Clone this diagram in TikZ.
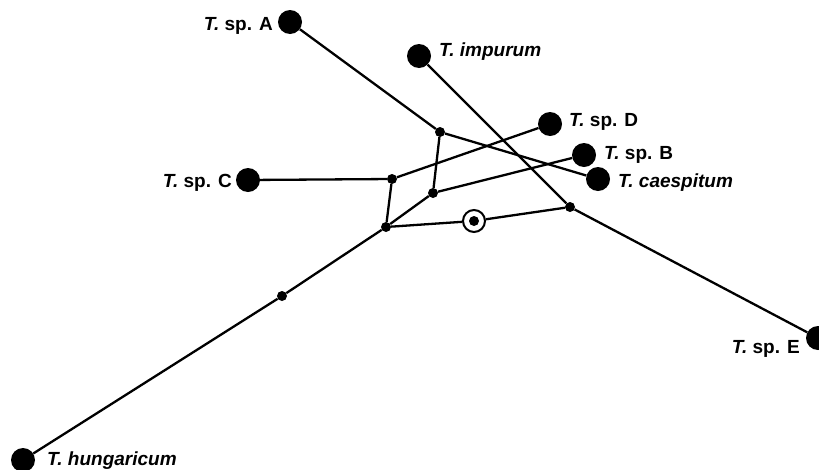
\documentclass[tikz,border=0pt]{standalone}
\usepackage{fontspec}
\setmainfont{Liberation Sans}
\begin{document}
\begin{tikzpicture}[x=1pt,y=-1pt,
  big/.style={circle,fill=black,inner sep=0pt,minimum size=24pt},
  small/.style={circle,fill=black,inner sep=0pt,minimum size=10pt},
  ring/.style={circle,draw=black,line width=2pt,inner sep=0pt,minimum size=22pt},
  lbl/.style={font=\fontsize{19}{22}\selectfont\bfseries,inner sep=0pt},
  edge/.style={line width=2.3pt}]
\useasboundingbox (0,0) rectangle (819,469);
% large taxa
\node[big] (A) at (290,22) {};
\node[big] (IMP) at (419,56) {};
\node[big] (D) at (550,124) {};
\node[big] (B) at (584,155) {};
\node[big] (CAE) at (598,179) {};
\node[big] (C) at (248,180) {};
\node[big] (E) at (818,338) {};
\node[big] (HUN) at (23,460) {};
% internal vertices
\node[small] (n1) at (440,132) {};
\node[small] (n2) at (392,179) {};
\node[small] (n3) at (433,193) {};
\node[small] (n4) at (386,227) {};
\node[small] (n5) at (570,207) {};
\node[small] (n6) at (282,296) {};
\node[small] (R) at (474,221) {};
\node[ring] (Rr) at (474,221) {};
% edges
\draw[edge] (A) -- (n1);
\draw[edge] (n1) -- (CAE);
\draw[edge] (n1) -- (n3);
\draw[edge] (C) -- (n2);
\draw[edge] (n2) -- (D);
\draw[edge] (n2) -- (n4);
\draw[edge] (n4) -- (n3);
\draw[edge] (n3) -- (B);
\draw[edge] (n4) -- (Rr);
\draw[edge] (Rr) -- (n5);
\draw[edge] (IMP) -- (n5);
\draw[edge] (n5) -- (E);
\draw[edge] (n4) -- (n6);
\draw[edge] (n6) -- (HUN);
% labels
\node[lbl,anchor=east] (lA) at (273,26) {\textit{T.} sp. A};
\node[lbl,anchor=west] (lIMP) at (439,52) {\textit{T. impurum}};
\node[lbl,anchor=west] (lD) at (569,122) {\textit{T.} sp. D};
\node[lbl,anchor=west] (lB) at (604,155) {\textit{T.} sp. B};
\node[lbl,anchor=west] (lCAE) at (618,183) {\textit{T. caespitum}};
\node[lbl,anchor=east] (lC) at (232,183) {\textit{T.} sp. C};
\node[lbl,anchor=east] (lE) at (800,349) {\textit{T.} sp. E};
\node[lbl,anchor=west] (lHUN) at (47,461) {\textit{T. hungaricum}};
\end{tikzpicture}
\end{document}
